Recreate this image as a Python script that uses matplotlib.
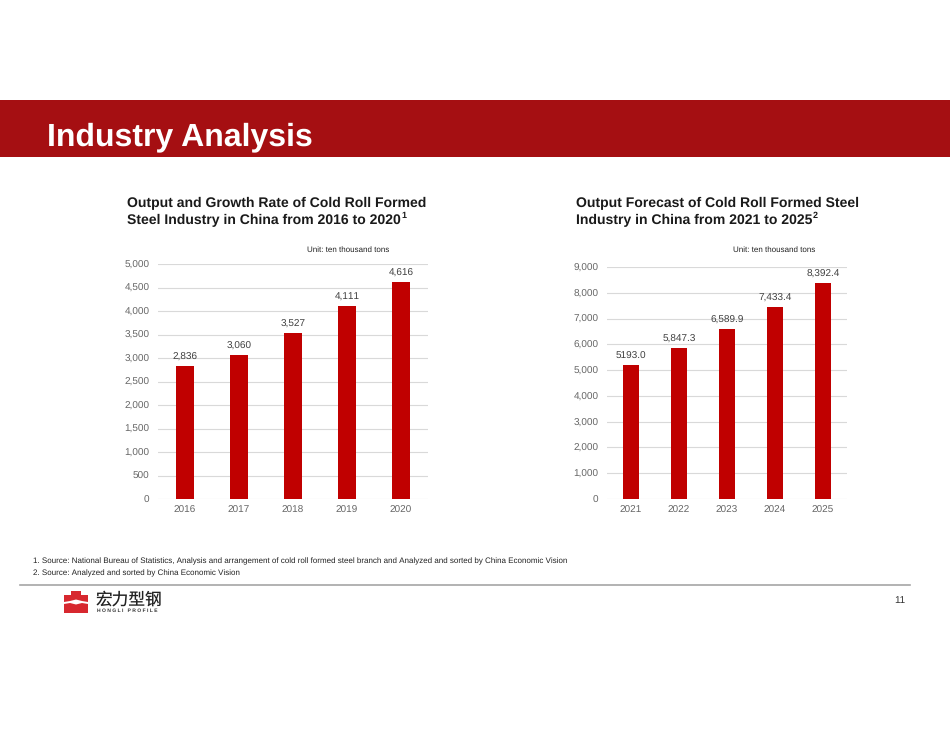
import numpy as np
import matplotlib.pyplot as plt
from matplotlib.patches import Rectangle, Polygon

plt.rcParams['font.family'] = ['Liberation Sans', 'Noto Sans CJK SC', 'DejaVu Sans']
plt.rcParams['text.hinting'] = 'no_hinting'
plt.rcParams['text.hinting_factor'] = 1

# data
years_a = ['2016', '2017', '2018', '2019', '2020']
output_a = [2836, 3060, 3527, 4111, 4616]
labels_a = ['2,836', '3,060', '3,527', '4,111', '4,616']

years_b = ['2021', '2022', '2023', '2024', '2025']
output_b = [5193.0, 5847.3, 6589.9, 7433.4, 8392.4]
labels_b = ['5193.0', '5,847.3', '6,589.9', '7,433.4', '8,392.4']

W, H = 950, 734
fig = plt.figure(figsize=(W / 100, H / 100), dpi=100)
fig.patch.set_facecolor('white')


def fx(x):
    return x / W


def fy(y):
    return 1 - y / H


def ax_box(x0, x1, ytop, ybot):
    return [fx(x0), fy(ybot), fx(x1) - fx(x0), (ybot - ytop) / H]


# header band
fig.patches.append(Rectangle((0, fy(157)), 1, (157 - 100) / H, transform=fig.transFigure,
                             facecolor='#A50F12', edgecolor='none'))
fig.text(fx(47), fy(137), 'Industry Analysis', color='white', fontsize=22.9,
         fontweight='bold', va='center', ha='left')

bar_col = '#C00000'
tick_col = '#666666'


def draw_chart(box, cats, vals, labs, ymax, step):
    ax = fig.add_axes(box)
    x = np.arange(len(cats))
    ax.bar(x, vals, width=0.32, color=bar_col, zorder=3)
    for xi, v, t in zip(x, vals, labs):
        ax.annotate(t, (xi, v), xytext=(0, 3), textcoords='offset points',
                    ha='center', va='bottom', fontsize=7, color='#404040')
    ax.set_xlim(-0.5, len(cats) - 0.5)
    ax.set_ylim(0, ymax)
    ax.set_yticks(np.arange(0, ymax + 1, step))
    ax.set_yticklabels([f'{int(v):,}' for v in np.arange(0, ymax + 1, step)])
    ax.set_xticks(x)
    ax.set_xticklabels(cats)
    ax.tick_params(axis='both', length=0, labelsize=7, colors=tick_col)
    ax.tick_params(axis='y', pad=6)
    ax.tick_params(axis='x', pad=5)
    ax.grid(axis='y', color='#D9D9D9', linewidth=0.8, zorder=0)
    for s in ax.spines.values():
        s.set_visible(False)
    ax.set_facecolor('none')
    return ax


draw_chart(ax_box(158, 428, 264, 499), years_a, output_a, labels_a, 5000, 500)
draw_chart(ax_box(607, 847, 267, 499), years_b, output_b, labels_b, 9000, 1000)

# chart titles
tkw = dict(fontsize=9.9, fontweight='bold', va='center', color='#1a1a1a')
fig.text(fx(127), fy(203), 'Output and Growth Rate of Cold Roll Formed', **tkw)
t1 = fig.text(fx(127), fy(220), 'Steel Industry in China from 2016 to 2020', **tkw)
fig.text(fx(576), fy(203), 'Output Forecast of Cold Roll Formed Steel', **tkw)
t2 = fig.text(fx(576), fy(220), 'Industry in China from 2021 to 2025', **tkw)
fig.canvas.draw()
r = fig.canvas.get_renderer()
for t, s in ((t1, '1'), (t2, '2')):
    bb = t.get_window_extent(r)
    fig.text(bb.x1 / W + 0.0005, fy(216), s, fontsize=6.5, fontweight='bold', va='center',
             color='#1a1a1a')

fig.text(fx(307), fy(250), 'Unit: ten thousand tons', fontsize=5.7, va='center', color='#222222')
fig.text(fx(733), fy(250), 'Unit: ten thousand tons', fontsize=5.7, va='center', color='#222222')

# footnotes
fig.text(fx(33), fy(561), '1. Source: National Bureau of Statistics, Analysis and arrangement of cold roll formed '
         'steel branch and Analyzed and sorted by China Economic Vision', fontsize=5.98, va='center',
         color='#222222')
fig.text(fx(33), fy(573), '2. Source: Analyzed and sorted by China Economic Vision', fontsize=5.98,
         va='center', color='#222222')

# footer rule and page number
fig.add_artist(plt.Line2D([fx(20), fx(910)], [fy(585), fy(585)], color='#A6A6A6', linewidth=1.2))
fig.text(fx(905), fy(600), '11', fontsize=7, ha='right', va='center', color='#333333')

# logo
logo_red = '#D7282F'
top = [(64, 595), (71, 595), (71, 591), (81, 591), (81, 595), (88, 595), (88, 602),
       (82, 601), (76, 599.5), (70, 601), (64, 602)]
bot = [(64, 604), (70, 603), (76, 604.5), (82, 603), (88, 604), (88, 613), (64, 613)]
for pts in (top, bot):
    fig.patches.append(Polygon([(fx(a), fy(b)) for a, b in pts], closed=True,
                               transform=fig.transFigure, facecolor=logo_red, edgecolor='none'))
fig.text(fx(96), fy(600), '宏力型钢', fontsize=12, va='center', ha='left', color='#222222',
         family=['Noto Sans CJK SC', 'DejaVu Sans'])
fig.text(fx(97), fy(611), 'H O N G L I   P R O F I L E', fontsize=3.3, va='center', ha='left',
         color='#333333', fontweight='bold')

fig.savefig('out.png', dpi=100)
